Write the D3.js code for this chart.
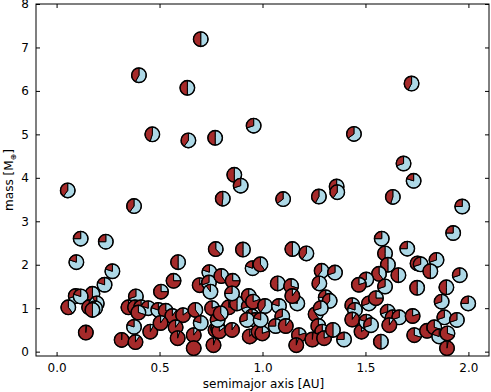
<!DOCTYPE html>
<html>
<head>
<meta charset="utf-8">
<script src="https://cdn.jsdelivr.net/npm/d3@7"></script>
<style>
  body { margin: 0; background: #fff; }
  text { font-family: "DejaVu Sans", sans-serif; }
</style>
</head>
<body>
<svg id="chart" width="491" height="392"></svg>
<script>
// planets: semimajor axis [AU], mass [M_earth], fraction of red wedge
var semimajor = [0.70,0.40,0.635,1.724,0.465,0.64,0.77,0.957,1.444,0.054,0.376,0.863,0.894,0.807,1.10,1.274,1.36,1.363,1.633,1.685,1.734,1.97,1.926,
  0.117,0.239,0.096,0.271,0.233,0.59,0.773,0.905,0.952,0.99,0.568,0.742,0.695,0.74,0.80,0.855,0.507,
  1.579,1.703,1.145,1.213,1.595,1.609,1.753,1.768,1.845,1.815,1.958,1.287,1.352,1.276,1.566,1.66,1.504,1.074,1.139,1.468,1.595,1.751,1.893,
  0.174,0.093,0.117,0.057,0.158,0.195,0.187,0.174,0.142,0.316,0.383,0.376,0.385,0.349,0.381,0.41,0.445,0.397,0.455,0.494,0.53,0.562,0.614,0.674,0.755,0.836,0.876,0.933,0.747,0.852,0.933,0.954,0.949,0.965,
  0.505,0.578,0.588,0.666,0.666,0.70,0.762,0.772,0.785,0.79,0.782,0.852,0.925,0.938,0.981,0.797,
  1.169,1.145,1.307,1.326,1.012,1.08,1.096,1.064,1.113,0.999,0.991,1.258,1.283,1.271,1.29,1.177,1.164,1.242,1.299,1.342,1.396,1.436,1.449,1.436,1.481,1.504,1.517,
  1.551,1.87,1.999,1.608,1.632,1.664,1.616,1.729,1.883,1.944,1.737,1.799,1.834,1.858,1.898,1.896,1.575,1.527];
var mass = [7.19,6.36,6.07,6.17,5.00,4.86,4.92,5.20,5.01,3.71,3.35,4.07,3.82,3.52,3.51,3.57,3.80,3.67,3.56,4.33,3.93,3.34,2.73,
  2.60,2.53,2.06,1.85,1.54,2.06,2.36,2.35,1.92,2.01,1.63,1.83,1.53,1.59,1.74,1.63,1.38,
  2.60,2.37,2.36,2.26,2.26,2.00,2.03,2.01,2.11,1.85,1.76,1.86,1.82,1.57,1.79,1.76,1.66,1.57,1.51,1.54,1.50,1.47,1.48,
  1.33,1.28,1.27,1.02,1.02,1.11,1.00,0.96,0.44,0.27,0.22,0.57,1.27,1.02,1.02,1.02,1.00,0.90,0.46,0.96,0.94,0.82,0.84,0.96,1.00,1.02,1.11,1.04,1.38,1.34,1.28,1.15,0.81,0.73,
  0.66,0.56,0.31,0.38,0.08,0.66,0.15,0.50,0.53,0.47,0.73,0.50,0.73,0.35,0.46,0.88,
  1.11,1.28,1.25,1.17,1.05,1.05,0.81,0.59,0.59,0.42,0.73,0.86,1.00,0.59,0.46,0.38,0.15,0.28,0.31,0.50,0.28,1.07,0.96,0.74,0.46,0.69,1.11,
  1.23,1.15,1.11,0.92,0.79,0.79,0.61,0.82,0.79,0.73,0.38,0.48,0.56,0.35,0.42,0.08,0.23,0.61];
var redFrac = [0.5,0.42,0.5,0.42,0.45,0.4,0.5,0.3,0.35,0.4,0.4,0.5,0.3,0.48,0.35,0.42,0.45,0.4,0.45,0.3,0.2,0.25,0.25,
  0.25,0.25,0.2,0.2,0.2,0.5,0.62,0.5,0.2,0.6,0.75,0.2,0.9,0.3,0.6,0.75,0.75,
  0.25,0.25,0.5,0.4,0.5,0.5,0.5,0.3,0.3,0.5,0.3,0.4,0.3,0.4,0.6,0.5,0.3,0.5,0.7,0.8,0.3,0.5,0.5,
  0.5,0.3,0.2,0.6,0.5,0.1,0.15,0.5,0.98,0.99,0.9,0.2,0.3,0.6,0.5,0.3,0.2,0.7,0.92,0.2,0.7,0.9,0.85,0.6,0.8,0.8,0.5,0.3,0.1,0.25,0.75,0.8,0.1,0.2,
  0.9,0.9,0.95,0.9,1.0,0.2,0.95,0.8,0.9,0.85,0.3,0.9,0.3,0.9,0.6,0.6,
  0.2,0.9,0.25,0.4,0.4,0.2,0.3,0.25,0.9,0.8,0.2,0.6,0.3,0.4,0.3,0.8,0.95,0.98,0.8,0.5,0.25,0.4,0.2,0.9,0.85,0.2,0.3,
  0.75,0.3,0.25,0.3,0.7,0.3,0.9,0.8,0.3,0.3,0.7,0.9,0.7,0.2,0.7,0.97,0.5,0.3];

var xTicks = [0, 0.5, 1, 1.5, 2];
var yTicks = [0, 1, 2, 3, 4, 5, 6, 7, 8];

var svg = d3.select("#chart");
var plotL = 36, plotR = 489, plotT = 4, plotB = 356;
var r = 7.3;

var x = d3.scaleLinear().domain([-0.1, 2.1]).range([plotL, plotR]);
var y = d3.scaleLinear().domain([-0.1, 8]).range([plotB, plotT]);

svg.append("clipPath").attr("id", "clip")
  .append("rect")
  .attr("x", plotL).attr("y", plotT)
  .attr("width", plotR - plotL).attr("height", plotB - plotT);

var planets = semimajor.map(function(a, i) {
  return { a: a, m: mass[i], f: redFrac[i] };
});

var arc = d3.arc().innerRadius(0).outerRadius(r);

// one little pie per planet, red wedge starts at 12 o'clock and turns anticlockwise
var marks = svg.append("g").attr("clip-path", "url(#clip)")
  .selectAll("g")
  .data(planets)
  .enter()
  .append("g")
  .attr("transform", function(d) {
    return "translate(" + x(d.a) + "," + y(d.m) + ")";
  });

marks.append("path")
  .attr("d", function(d) {
    return arc({ startAngle: 0, endAngle: 2 * Math.PI * (1 - d.f) });
  })
  .attr("fill", "#add8e6")
  .attr("stroke", "#000")
  .attr("stroke-width", 1);

marks.append("path")
  .attr("d", function(d) {
    return arc({ startAngle: -2 * Math.PI * d.f, endAngle: 0 });
  })
  .attr("fill", "#a52a2a")
  .attr("stroke", "#000")
  .attr("stroke-width", 1);

marks.append("circle")
  .attr("r", r)
  .attr("fill", "none")
  .attr("stroke", "#000")
  .attr("stroke-width", 1.4);

// axes with inward ticks on all four sides
svg.append("g")
  .attr("transform", "translate(0," + plotB + ")")
  .call(d3.axisBottom(x).tickValues(xTicks).tickSizeInner(-4).tickSizeOuter(0).tickPadding(7)
    .tickFormat(d3.format(".1f")));
svg.append("g")
  .attr("transform", "translate(0," + plotT + ")")
  .call(d3.axisTop(x).tickValues(xTicks).tickSizeInner(-4).tickSizeOuter(0).tickFormat(""));
svg.append("g")
  .attr("transform", "translate(" + plotL + ",0)")
  .call(d3.axisLeft(y).tickValues(yTicks).tickSizeInner(-4).tickSizeOuter(0).tickPadding(7));
svg.append("g")
  .attr("transform", "translate(" + plotR + ",0)")
  .call(d3.axisRight(y).tickValues(yTicks).tickSizeInner(-4).tickSizeOuter(0).tickFormat(""));

svg.selectAll(".domain").remove();
svg.selectAll(".tick line").attr("stroke", "#000");
svg.selectAll(".tick text").attr("font-size", 12).attr("fill", "#000")
  .style("font-family", "DejaVu Sans, sans-serif");

svg.append("rect")
  .attr("x", plotL).attr("y", plotT)
  .attr("width", plotR - plotL).attr("height", plotB - plotT)
  .attr("fill", "none").attr("stroke", "#000").attr("stroke-width", 1);

svg.append("text")
  .attr("x", (plotL + plotR) / 2 + 1)
  .attr("y", 388)
  .attr("text-anchor", "middle")
  .attr("font-size", 12)
  .text("semimajor axis [AU]");

var ylab = svg.append("text")
  .attr("transform", "translate(13," + ((plotT + plotB) / 2) + ") rotate(-90)")
  .attr("text-anchor", "middle")
  .attr("font-size", 12);
ylab.append("tspan").text("mass [M");
ylab.append("tspan").attr("font-size", 8).attr("dy", 3).text("\u2295");
ylab.append("tspan").attr("dy", -3).text("]");
</script>
</body>
</html>
